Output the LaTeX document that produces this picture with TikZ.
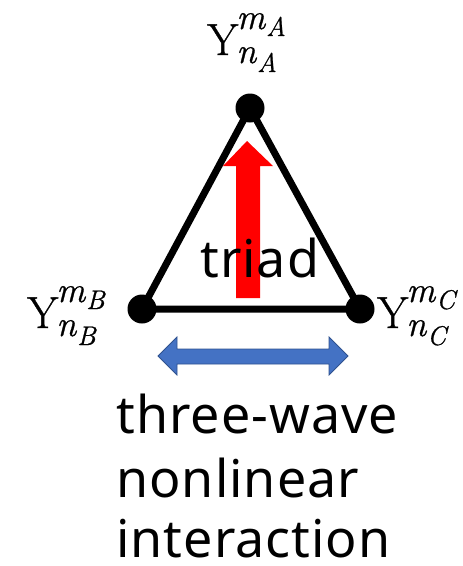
\documentclass[tikz,border=0pt]{standalone}
\usepackage{fontspec}
\newfontfamily\labelfont[LetterSpace=2]{Noto Sans}
\newfontfamily\harmfont[FakeBold=0.8]{Latin Modern Roman}
\newcommand\harmlabel[1]{\harmfont
  {\fontsize{45}{45}\selectfont Y}\kern-2pt
  \rlap{\raisebox{26pt}{\fontsize{36}{36}\selectfont\itshape m\kern1pt\raisebox{-7pt}{\fontsize{27}{27}\selectfont #1}}}%
  \raisebox{-8pt}{\fontsize{36}{36}\selectfont\itshape n\kern1pt\raisebox{-9pt}{\fontsize{27}{27}\selectfont #1}}}
\begin{document}
\begin{tikzpicture}[x=1pt,y=-1pt,
  edge/.style={line width=7pt,line cap=round},
  vertex/.style={circle,fill=black,inner sep=0pt,minimum size=29pt},
  mathlbl/.style={inner sep=0pt,anchor=base west},
  txt/.style={inner sep=0pt,anchor=base west,font=\labelfont\fontsize{52}{63}\selectfont}]
\useasboundingbox (0,0) rectangle (463,566);
% vertices
\coordinate (A) at (250,108);
\coordinate (B) at (142,309);
\coordinate (C) at (360,309);
\draw[edge] (A) -- (B) -- (C) -- cycle;
\node[vertex] (vA) at (A) {};
\node[vertex] (vB) at (B) {};
\node[vertex] (vC) at (C) {};
% red arrow
\fill[red] (236,298) -- (236,166) -- (223,166) -- (247,141) -- (273,166) -- (260,166) -- (260,298) -- cycle;
% blue double arrow
\draw[fill={rgb,255:red,68;green,114;blue,196},draw={rgb,255:red,47;green,82;blue,143},line width=0.8pt]
  (158,356) -- (177,337) -- (177,349) -- (329,349) -- (329,337) -- (348,356)
  -- (329,375) -- (329,364) -- (177,364) -- (177,375) -- cycle;
% labels
\node[mathlbl] (lA) at (207,55) {\harmlabel{A}};
\node[mathlbl] (lB) at (27,328) {\harmlabel{B}};
\node[mathlbl] (lC) at (377,328) {\harmlabel{C}};
\node[txt] (triad) at (200,277) {triad};
\node[txt] (l1) at (116,433) {three-wave};
\node[txt] (l2) at (116,497) {nonlinear};
\node[txt] (l3) at (116,557) {interaction};
\end{tikzpicture}
\end{document}
